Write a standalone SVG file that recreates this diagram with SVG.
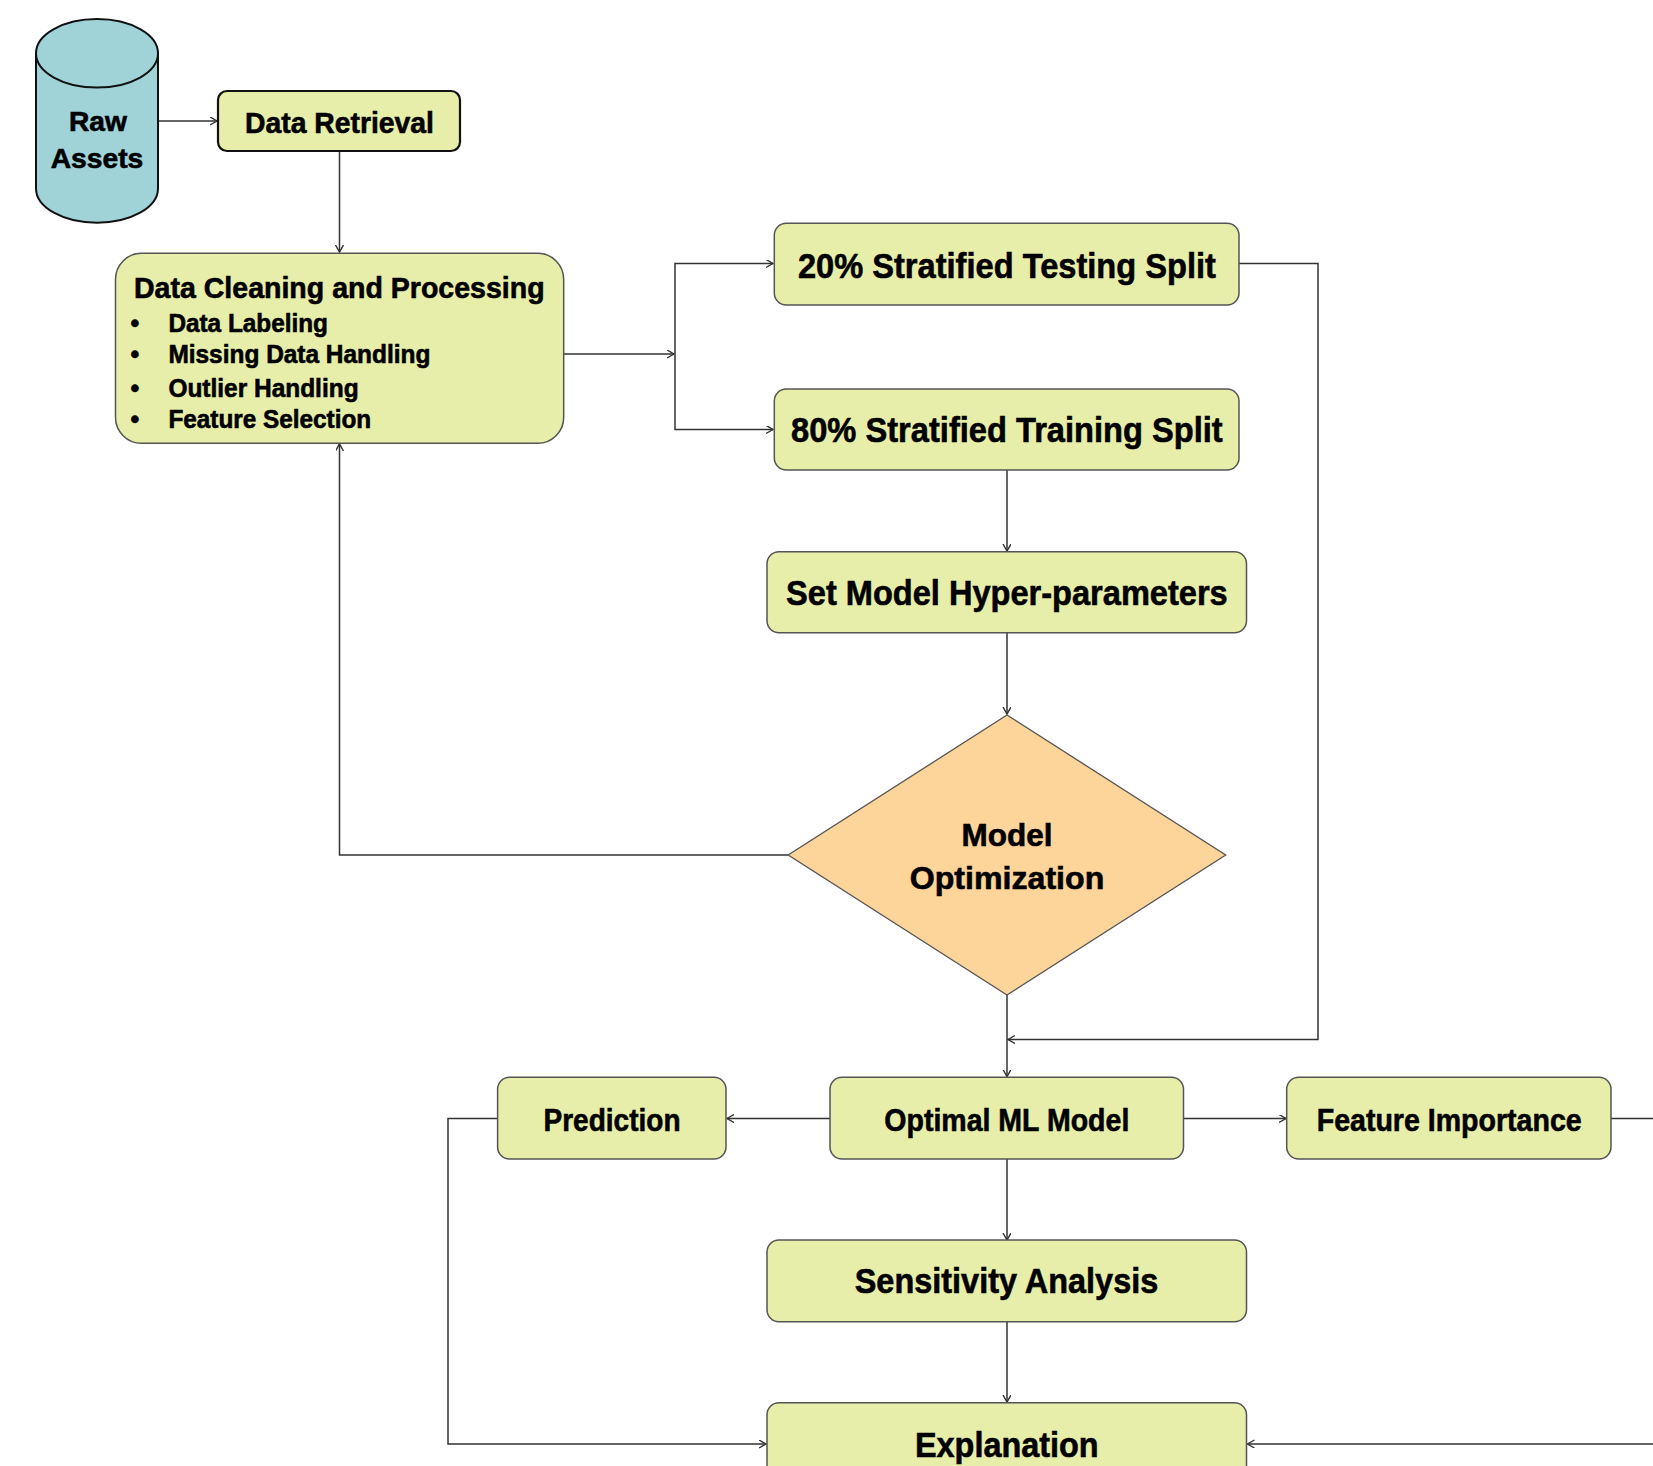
<svg xmlns="http://www.w3.org/2000/svg" width="1653" height="1466" viewBox="0 0 1653 1466">
<style>
.box{fill:#e7eeaa;stroke:#555;stroke-width:1.5}
.t{font-family:"Liberation Sans",Arial,sans-serif;font-weight:bold;fill:#000;stroke:#000;stroke-width:0.6}
.c{text-anchor:middle}
.ln{fill:none;stroke:#333;stroke-width:1.5}
</style>
<defs>
<marker id="ah" markerUnits="userSpaceOnUse" markerWidth="10" markerHeight="10" refX="7" refY="4" orient="auto">
<path d="M0,0 L7,4 L0,8" fill="none" stroke="#333" stroke-width="1.4"/>
</marker>
</defs>
<rect width="1653" height="1466" fill="#fff"/>

<g id="connectors">
<path class="ln" d="M158,121 H217" marker-end="url(#ah)"/>
<path class="ln" d="M339.5,151 V252" marker-end="url(#ah)"/>
<path class="ln" d="M564,354 H674" marker-end="url(#ah)"/>
<path class="ln" d="M675,354 V263.5 H773" marker-end="url(#ah)"/>
<path class="ln" d="M675,354 V429.5 H773" marker-end="url(#ah)"/>
<path class="ln" d="M1007,470 V551" marker-end="url(#ah)"/>
<path class="ln" d="M1007,633 V714" marker-end="url(#ah)"/>
<path class="ln" d="M788,855 H339.5 V444" marker-end="url(#ah)"/>
<path class="ln" d="M1007,995 V1076.5" marker-end="url(#ah)"/>
<path class="ln" d="M1239,263.5 H1318 V1039.5 H1008" marker-end="url(#ah)"/>
<path class="ln" d="M830,1118.5 H727" marker-end="url(#ah)"/>
<path class="ln" d="M1183,1118.5 H1286" marker-end="url(#ah)"/>
<path class="ln" d="M1007,1159 V1240" marker-end="url(#ah)"/>
<path class="ln" d="M1007,1322 V1402" marker-end="url(#ah)"/>
<path class="ln" d="M497.5,1118.5 H448 V1444 H766" marker-end="url(#ah)"/>
<path class="ln" d="M1611,1118.5 H1680 V1444 H1247.5" marker-end="url(#ah)"/>
</g>

<g id="raw-assets">
<path d="M36,53.3 V188.4 A61,34.3 0 0 0 158,188.4 V53.3 Z" fill="#a0d3d8" stroke="#111" stroke-width="2"/>
<ellipse cx="97" cy="53.3" rx="61" ry="34.3" fill="#a0d3d8" stroke="#111" stroke-width="2"/>
<text class="t c" x="98" y="130.5" font-size="28" textLength="58" lengthAdjust="spacingAndGlyphs">Raw</text>
<text class="t c" x="97" y="167.5" font-size="28" textLength="92.7" lengthAdjust="spacingAndGlyphs">Assets</text>
</g>

<g id="data-retrieval">
<rect x="218" y="91" width="242" height="60" rx="9" fill="#e7eeaa" stroke="#111" stroke-width="2.2"/>
<text class="t c" x="339.5" y="132.5" font-size="29" textLength="189" lengthAdjust="spacingAndGlyphs">Data Retrieval</text>
</g>

<g id="data-cleaning">
<rect class="box" x="115.5" y="253.3" width="448.2" height="190" rx="26"/>
<text class="t" x="134" y="297.7" font-size="29" textLength="410.6" lengthAdjust="spacingAndGlyphs">Data Cleaning and Processing</text>
<g font-size="25">
<text class="t c" x="135" y="331.7">•</text>
<text class="t" x="168.4" y="331.7" textLength="159.6" lengthAdjust="spacingAndGlyphs">Data Labeling</text>
<text class="t c" x="135" y="363.3">•</text>
<text class="t" x="168.4" y="363.3" textLength="262" lengthAdjust="spacingAndGlyphs">Missing Data Handling</text>
<text class="t c" x="135" y="396.7">•</text>
<text class="t" x="168.4" y="396.7" textLength="190.2" lengthAdjust="spacingAndGlyphs">Outlier Handling</text>
<text class="t c" x="135" y="428.3">•</text>
<text class="t" x="168.4" y="428.3" textLength="202.8" lengthAdjust="spacingAndGlyphs">Feature Selection</text>
</g>
</g>

<g id="testing-split">
<rect class="box" x="774.3" y="223.3" width="464.7" height="81.7" rx="12"/>
<text class="t c" x="1006.9" y="278" font-size="35" textLength="418" lengthAdjust="spacingAndGlyphs">20% Stratified Testing Split</text>
</g>

<g id="training-split">
<rect class="box" x="774.3" y="389" width="464.7" height="81" rx="12"/>
<text class="t c" x="1006.9" y="442.3" font-size="35" textLength="431.7" lengthAdjust="spacingAndGlyphs">80% Stratified Training Split</text>
</g>

<g id="hyper-parameters">
<rect class="box" x="767" y="551.7" width="479.5" height="81" rx="12"/>
<text class="t c" x="1006.9" y="604.5" font-size="35" textLength="441.7" lengthAdjust="spacingAndGlyphs">Set Model Hyper-parameters</text>
</g>

<g id="model-optimization">
<polygon points="1007,715 1225.7,855 1007,995 788.2,855" fill="#fdd59a" stroke="#555" stroke-width="1.3"/>
<text class="t c" x="1007" y="846" font-size="32" textLength="91" lengthAdjust="spacingAndGlyphs">Model</text>
<text class="t c" x="1007" y="889" font-size="32" textLength="194.6" lengthAdjust="spacingAndGlyphs">Optimization</text>
</g>

<g id="optimal-ml-model">
<rect class="box" x="830" y="1077.3" width="353.5" height="81.7" rx="12"/>
<text class="t c" x="1006.8" y="1130.5" font-size="32" textLength="245" lengthAdjust="spacingAndGlyphs">Optimal ML Model</text>
</g>

<g id="prediction">
<rect class="box" x="497.6" y="1077.3" width="228.4" height="81.7" rx="12"/>
<text class="t c" x="612" y="1130.5" font-size="32" textLength="137" lengthAdjust="spacingAndGlyphs">Prediction</text>
</g>

<g id="feature-importance">
<rect class="box" x="1286.7" y="1077.3" width="324.3" height="81.7" rx="12"/>
<text class="t c" x="1449.2" y="1130.5" font-size="32" textLength="265" lengthAdjust="spacingAndGlyphs">Feature Importance</text>
</g>

<g id="sensitivity-analysis">
<rect class="box" x="767" y="1240" width="479.5" height="81.7" rx="12"/>
<text class="t c" x="1006.5" y="1293.3" font-size="35" textLength="303.6" lengthAdjust="spacingAndGlyphs">Sensitivity Analysis</text>
</g>

<g id="explanation">
<rect class="box" x="767" y="1402.7" width="479.5" height="90" rx="12"/>
<text class="t c" x="1006.8" y="1456.7" font-size="35" textLength="183.6" lengthAdjust="spacingAndGlyphs">Explanation</text>
</g>
</svg>
